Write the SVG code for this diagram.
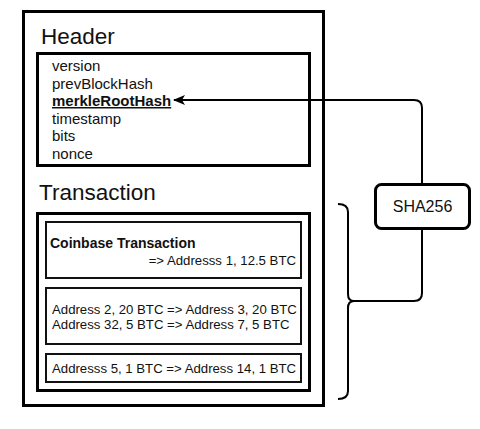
<svg xmlns="http://www.w3.org/2000/svg" width="480" height="429" viewBox="0 0 480 429">
  <defs>
    <style>
      text { font-family: "Liberation Sans", Arial, sans-serif; fill: #111; }
      .frame { fill: none; stroke: #000; stroke-width: 3; }
      .tx { fill: #fff; stroke: #111; stroke-width: 2; }
      .title { font-size: 22.5px; }
      .field { font-size: 15px; }
      .txt { font-size: 13.2px; }
      .wire { fill: none; stroke: #000; stroke-width: 2; stroke-linejoin: round; }
    </style>
    <marker id="arrow" viewBox="0 0 12 10" refX="11" refY="5" markerWidth="12" markerHeight="10" markerUnits="userSpaceOnUse" orient="auto">
      <path d="M0,0 L12,5 L0,10 L3,5 Z" fill="#000"/>
    </marker>
  </defs>
  <rect width="480" height="429" fill="#fff"/>

  <!-- block container -->
  <g id="block">
    <rect class="frame" x="23.5" y="11.5" width="300" height="394"/>
  </g>

  <!-- block header -->
  <g id="header">
    <text class="title" x="41" y="44">Header</text>
    <rect class="frame" x="37.5" y="53.5" width="272" height="112"/>
    <text class="field" x="52" y="71">version</text>
    <text class="field" x="52" y="88.5">prevBlockHash</text>
    <text class="field" x="52" y="106" font-weight="bold" text-decoration="underline">merkleRootHash</text>
    <text class="field" x="52" y="123.5">timestamp</text>
    <text class="field" x="52" y="141">bits</text>
    <text class="field" x="52" y="158.5">nonce</text>
  </g>

  <!-- transaction list -->
  <g id="transactions">
    <text class="title" x="39" y="200">Transaction</text>
    <rect class="frame" x="37.5" y="213.5" width="272" height="177"/>
  </g>
  <g id="tx-coinbase">
    <rect class="tx" x="46" y="222" width="255" height="56"/>
    <text x="50" y="248" font-size="14" font-weight="bold">Coinbase Transaction</text>
    <text class="txt" x="296" y="265" text-anchor="end">=&gt; Addresss 1, 12.5 BTC</text>
  </g>
  <g id="tx-2">
    <rect class="tx" x="46" y="288" width="255" height="56"/>
    <text class="txt" x="52" y="314">Address 2, 20 BTC =&gt; Address 3, 20 BTC</text>
    <text class="txt" x="52" y="328.5">Address 32, 5 BTC =&gt; Address 7, 5 BTC</text>
  </g>
  <g id="tx-3">
    <rect class="tx" x="46" y="354" width="255" height="28"/>
    <text class="txt" x="52" y="373">Addresss 5, 1 BTC =&gt; Address 14, 1 BTC</text>
  </g>

  <!-- hash function -->
  <g id="sha256">
    <rect x="375.5" y="184.5" width="94" height="44" rx="6" fill="#fff" stroke="#000" stroke-width="3"/>
    <text x="422.5" y="212" text-anchor="middle" font-size="16">SHA256</text>
  </g>

  <!-- connectors -->
  <g id="connectors">
    <!-- brace grouping all transactions -->
    <path class="wire" d="M338,204 Q348,204 348,212 L348,294 Q348,301 354,301 M354,301 Q348,301 348,308 L348,391 Q348,399 338,399"/>
    <!-- brace to SHA256 -->
    <path class="wire" d="M354,301 L414,301 Q422,301 422,293 L422,229"/>
    <!-- SHA256 output to merkleRootHash -->
    <path class="wire" d="M422,184 L422,108 Q422,100 414,100 L174,100" marker-end="url(#arrow)"/>
  </g>
</svg>
